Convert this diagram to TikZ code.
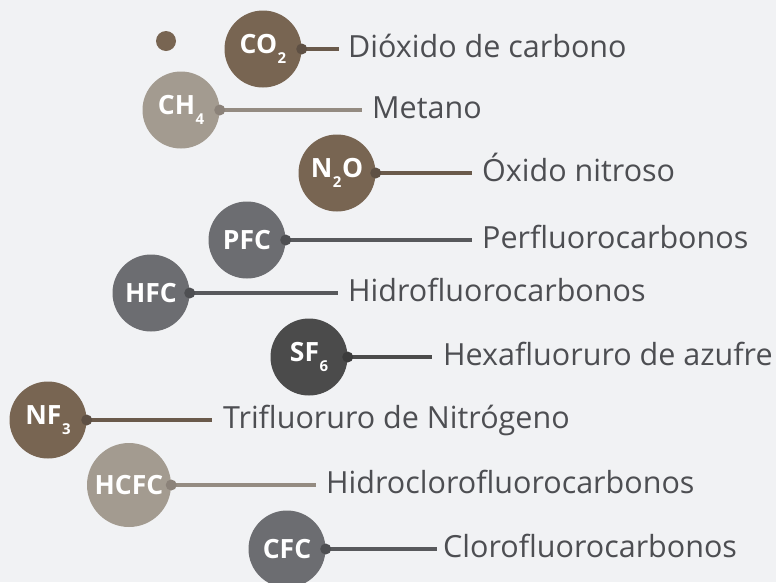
\documentclass[tikz,border=0pt]{standalone}
\usepackage{fontspec}
\setmainfont{Open Sans}
\usetikzlibrary{positioning}
\definecolor{bgcol}{HTML}{F1F2F4}
\definecolor{txtcol}{HTML}{4D4E52}
\definecolor{brownc}{HTML}{786552}
\definecolor{brownln}{HTML}{6A5A4B}
\definecolor{browndot}{HTML}{5E5044}
\definecolor{lightc}{HTML}{A39B90}
\definecolor{lightln}{HTML}{948B81}
\definecolor{lightdot}{HTML}{8B8279}
\definecolor{grayc}{HTML}{6C6D71}
\definecolor{grayln}{HTML}{58595C}
\definecolor{graydot}{HTML}{4E4F52}
\definecolor{darkc}{HTML}{4B4B4B}
\definecolor{darkln}{HTML}{4B4B4B}
\definecolor{darkdot}{HTML}{3C3C3C}
\newcommand{\gsub}[1]{\kern0.5pt\raisebox{-10pt}{\fontsize{15}{15}\selectfont #1}}

\begin{document}
\begin{tikzpicture}[x=1pt, y=-1pt,
    gas/.style={circle, inner sep=0pt, minimum size=77pt, text=white, font=\fontsize{26.5}{26.5}\selectfont\bfseries},
    pin/.style={circle, inner sep=0pt, minimum size=11pt},
    link/.style={line width=4.5pt},
    gasname/.style={inner sep=0pt, text height=16pt, text depth=0pt, text=txtcol, font=\fontsize{30.5}{30.5}\selectfont}
]
\fill[bgcol] (0,0) rectangle (776,582);
\useasboundingbox (0,0) rectangle (776,582);

\node[circle, fill=brownc, minimum size=20pt, inner sep=0pt] (bullet) at (166,41) {};

% carbon dioxide
\node[gas, fill=brownc] (co2) at (263,49) {CO\gsub{2}};
\coordinate (co2end) at (339,49);
\draw[link, brownln] (co2.east) -- (co2end);
\node[pin, fill=browndot] (co2pin) at (co2.east) {};
\node[gasname, right=9pt of co2end] (co2txt) {Dióxido de carbono};

% methane
\node[gas, fill=lightc] (ch4) at (181,110) {CH\gsub{4}};
\coordinate (ch4end) at (362,110);
\draw[link, lightln] (ch4.east) -- (ch4end);
\node[pin, fill=lightdot] (ch4pin) at (ch4.east) {};
\node[gasname, right=10pt of ch4end] (ch4txt) {Metano};

% nitrous oxide
\node[gas, fill=brownc] (n2o) at (337,173) {N\gsub{2}\kern0.5pt O};
\coordinate (n2oend) at (472,173);
\draw[link, brownln] (n2o.east) -- (n2oend);
\node[pin, fill=browndot] (n2opin) at (n2o.east) {};
\node[gasname, right=10pt of n2oend] (n2otxt) {Óxido nitroso};

% PFC
\node[gas, fill=grayc] (pfc) at (247,240) {PFC};
\coordinate (pfcend) at (472,240);
\draw[link, grayln] (pfc.east) -- (pfcend);
\node[pin, fill=graydot] (pfcpin) at (pfc.east) {};
\node[gasname, right=10pt of pfcend] (pfctxt) {Perfluorocarbonos};

% HFC
\node[gas, fill=grayc] (hfc) at (151,293) {HFC};
\coordinate (hfcend) at (338,293);
\draw[link, grayln] (hfc.east) -- (hfcend);
\node[pin, fill=graydot] (hfcpin) at (hfc.east) {};
\node[gasname, right=10pt of hfcend] (hfctxt) {Hidrofluorocarbonos};

% SF6
\node[gas, fill=darkc] (sf6) at (309,357) {SF\gsub{6}};
\coordinate (sf6end) at (432,357);
\draw[link, darkln] (sf6.east) -- (sf6end);
\node[pin, fill=darkdot] (sf6pin) at (sf6.east) {};
\node[gasname, right=11pt of sf6end] (sf6txt) {Hexafluoruro de azufre};

% NF3
\node[gas, fill=brownc] (nf3) at (48,420) {NF\gsub{3}};
\coordinate (nf3end) at (212,420);
\draw[link, brownln] (nf3.east) -- (nf3end);
\node[pin, fill=browndot] (nf3pin) at (nf3.east) {};
\node[gasname, right=11pt of nf3end] (nf3txt) {Trifluoruro de Nitrógeno};

% HCFC
\node[gas, fill=lightc, minimum size=84pt] (hcfc) at (129,485) {HCFC};
\coordinate (hcfcend) at (316,485);
\draw[link, lightln] (hcfc.east) -- (hcfcend);
\node[pin, fill=lightdot] (hcfcpin) at (hcfc.east) {};
\node[gasname, right=10pt of hcfcend] (hcfctxt) {Hidroclorofluorocarbonos};

% CFC
\node[gas, fill=grayc] (cfc) at (287,549) {CFC};
\coordinate (cfcend) at (437,549);
\draw[link, grayln] (cfc.east) -- (cfcend);
\node[pin, fill=graydot] (cfcpin) at (cfc.east) {};
\node[gasname, right=6pt of cfcend] (cfctxt) {Clorofluorocarbonos};
\end{tikzpicture}
\end{document}
